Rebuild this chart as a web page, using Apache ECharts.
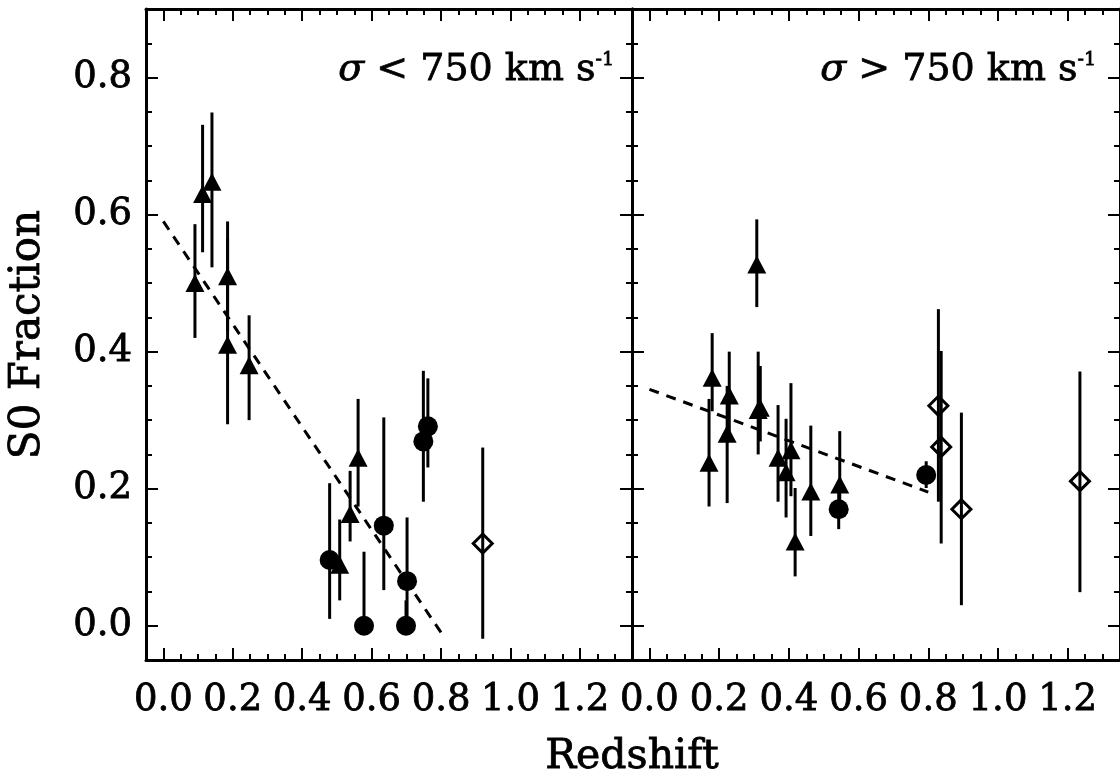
<!DOCTYPE html>
<html>
<head>
<meta charset="utf-8">
<script src="https://cdn.jsdelivr.net/npm/echarts@6/dist/echarts.min.js"></script>
<style>
  html, body { margin: 0; padding: 0; background: #fff; overflow: hidden; }
  #chart { width: 1120px; height: 774px; }
</style>
</head>
<body>
<div id="chart"></div>
<script>
const FONT = 'DejaVu Serif';

// tick values
const xMajor = [0, 0.2, 0.4, 0.6, 0.8, 1.0, 1.2];
const xMinor = [0.05, 0.1, 0.15, 0.25, 0.3, 0.35, 0.45, 0.5, 0.55, 0.65, 0.7, 0.75,
  0.85, 0.9, 0.95, 1.05, 1.1, 1.15, 1.25, 1.3];
const yMajor = [0, 0.2, 0.4, 0.6, 0.8];
const yMinor = [0.05, 0.1, 0.15, 0.25, 0.3, 0.35, 0.45, 0.5, 0.55, 0.65, 0.7, 0.75, 0.85];

// [redshift, S0 fraction, error low, error high]
const lowTriangles = [
  [0.091, 0.50, 0.42, 0.586],
  [0.113, 0.63, 0.545, 0.731],
  [0.140, 0.648, 0.523, 0.749],
  [0.185, 0.51, 0.43, 0.59],
  [0.185, 0.41, 0.294, 0.565],
  [0.247, 0.38, 0.30, 0.453],
  [0.508, 0.089, 0.037, 0.155],
  [0.538, 0.163, 0.123, 0.226],
  [0.561, 0.245, 0.174, 0.331]
];
const lowCircles = [
  [0.479, 0.096, 0.010, 0.208],
  [0.578, 0.0, 0.0, 0.108],
  [0.635, 0.146, 0.052, 0.304],
  [0.699, 0.0, 0.0, 0.037],
  [0.702, 0.065, 0.0, 0.158],
  [0.749, 0.269, 0.181, 0.372],
  [0.762, 0.291, 0.231, 0.361]
];
const lowDiamonds = [
  [0.92, 0.12, -0.019, 0.26]
];
const lowFit = [[0, 0.59], [0.80, -0.01]];

const highTriangles = [
  [0.171, 0.238, 0.174, 0.331],
  [0.18, 0.362, 0.313, 0.427],
  [0.223, 0.28, 0.179, 0.35],
  [0.229, 0.336, 0.28, 0.40],
  [0.308, 0.527, 0.465, 0.593],
  [0.312, 0.315, 0.25, 0.40],
  [0.318, 0.318, 0.269, 0.379],
  [0.369, 0.245, 0.181, 0.322],
  [0.392, 0.224, 0.158, 0.302],
  [0.406, 0.256, 0.189, 0.354],
  [0.418, 0.123, 0.072, 0.201],
  [0.463, 0.196, 0.131, 0.292],
  [0.546, 0.206, 0.17, 0.284]
];
const highCircles = [
  [0.543, 0.17, 0.141, 0.20],
  [0.794, 0.22, 0.201, 0.24]
];
const highDiamonds = [
  [0.829, 0.321, 0.181, 0.462],
  [0.837, 0.261, 0.120, 0.401],
  [0.895, 0.17, 0.030, 0.311],
  [1.235, 0.211, 0.049, 0.371]
];
const highFit = [[0, 0.345], [0.80, 0.195]];

const X_RANGE = [-0.05, 1.35];
const Y_RANGE = [-0.05, 0.9];

const panelL = { left: 146, top: 9, width: 486, height: 651 };
const panelR = { left: 632, top: 9, width: 497, height: 651 };

// slightly heavier glyphs, closer to the plotting font of the original
const inkText = { color: '#000', fontFamily: FONT, textBorderColor: '#000', textBorderWidth: 0.8 };

const xAxes = [];
const yAxes = [];

// one grid = bottom/top x axes + left/right y axes with given ticks
function addFrame(gridIndex, xt, yt, len, major, labels) {
  ['bottom', 'top'].forEach(pos => {
    xAxes.push({
      type: 'value', gridIndex, position: pos, min: X_RANGE[0], max: X_RANGE[1],
      splitLine: { show: false },
      axisLine: { show: major, onZero: false, lineStyle: { color: '#000', width: 3 } },
      axisTick: { show: true, inside: true, length: len, customValues: xt,
        lineStyle: { color: '#000', width: 2 } },
      axisLabel: Object.assign({
        show: labels && pos === 'bottom', customValues: xMajor, margin: 22, fontSize: 37,
        formatter: v => v.toFixed(1)
      }, inkText)
    });
  });
  ['left', 'right'].forEach(pos => {
    const ax = {
      type: 'value', gridIndex, position: pos, min: Y_RANGE[0], max: Y_RANGE[1],
      splitLine: { show: false },
      axisLine: { show: major, onZero: false, lineStyle: { color: '#000', width: 3 } },
      axisTick: { show: true, inside: true, length: len, customValues: yt,
        lineStyle: { color: '#000', width: 2 } },
      axisLabel: Object.assign({
        show: labels && gridIndex === 0 && pos === 'left', customValues: yMajor, margin: 14,
        fontSize: 37, formatter: v => v.toFixed(1)
      }, inkText)
    };
    if (gridIndex === 0 && pos === 'left') {
      ax.name = 'S0 Fraction';
      ax.nameLocation = 'middle';
      ax.nameGap = 97;
      ax.nameTextStyle = Object.assign({ fontSize: 42 }, inkText);
    }
    yAxes.push(ax);
  });
}

addFrame(0, xMajor, yMajor, 12, true, true);
addFrame(1, xMinor, yMinor, 6, false, false);
addFrame(2, xMajor, yMajor, 12, true, true);
addFrame(3, xMinor, yMinor, 6, false, false);

function errorBars(data, axisIndex) {
  return {
    type: 'custom', xAxisIndex: axisIndex, yAxisIndex: axisIndex, data: data,
    encode: { x: 0, y: [2, 3] }, silent: true, z: 2,
    renderItem: (params, api) => {
      const hi = api.coord([api.value(0), api.value(3)]);
      const lo = api.coord([api.value(0), api.value(2)]);
      return {
        type: 'line',
        shape: { x1: hi[0], y1: hi[1], x2: lo[0], y2: lo[1] },
        style: { stroke: '#000', lineWidth: 3 }
      };
    }
  };
}

function points(data, axisIndex, kind) {
  const s = {
    type: 'scatter', xAxisIndex: axisIndex, yAxisIndex: axisIndex, z: 3, silent: true,
    data: data.map(d => [d[0], d[1]])
  };
  if (kind === 'triangle') {
    s.symbol = 'triangle';
    s.symbolSize = [19, 18];
    s.itemStyle = { color: '#000', opacity: 1 };
  } else if (kind === 'circle') {
    s.symbol = 'circle';
    s.symbolSize = 20;
    s.itemStyle = { color: '#000', opacity: 1 };
  } else {
    s.symbol = 'diamond';
    s.symbolSize = 19;
    s.itemStyle = { color: 'rgba(0,0,0,0)', borderColor: '#000', borderWidth: 3, opacity: 1 };
  }
  return s;
}

function fitLine(data, axisIndex) {
  return {
    type: 'line', xAxisIndex: axisIndex, yAxisIndex: axisIndex, data: data,
    showSymbol: false, silent: true, z: 1,
    lineStyle: { color: '#000', width: 3, type: [10, 8] }
  };
}

const series = [
  fitLine(lowFit, 0),
  errorBars(lowTriangles, 0), errorBars(lowCircles, 0), errorBars(lowDiamonds, 0),
  points(lowTriangles, 0, 'triangle'), points(lowCircles, 0, 'circle'), points(lowDiamonds, 0, 'diamond'),
  fitLine(highFit, 4),
  errorBars(highTriangles, 4), errorBars(highCircles, 4), errorBars(highDiamonds, 4),
  points(highTriangles, 4, 'triangle'), points(highCircles, 4, 'circle'), points(highDiamonds, 4, 'diamond')
];

function sigmaText(x, txt) {
  return {
    type: 'text', x: x, y: 70, silent: true,
    style: {
      text: '{s|σ} ' + txt + ' 750 km s{p|-1}',
      fill: '#000', fontFamily: FONT, fontSize: 38,
      stroke: '#000', lineWidth: 0.8,
      align: 'right', verticalAlign: 'middle',
      rich: {
        s: { fontFamily: FONT, fontSize: 38, fontStyle: 'italic', fill: '#000' },
        p: { fontFamily: FONT, fontSize: 19, fill: '#000', verticalAlign: 'top' }
      }
    }
  };
}

const chart = echarts.init(document.getElementById('chart'), null, { renderer: 'canvas' });
chart.setOption({
  animation: false,
  backgroundColor: '#fff',
  grid: [
    Object.assign({}, panelL), Object.assign({}, panelL),
    Object.assign({}, panelR), Object.assign({}, panelR)
  ],
  xAxis: xAxes,
  yAxis: yAxes,
  series: series,
  graphic: [
    sigmaText(614, '<'),
    sigmaText(1096, '>'),
    {
      type: 'text', x: 632, y: 757, silent: true,
      style: { text: 'Redshift', fill: '#000', fontFamily: FONT, fontSize: 41,
        stroke: '#000', lineWidth: 0.8, align: 'center', verticalAlign: 'middle' }
    }
  ]
});
</script>
</body>
</html>
